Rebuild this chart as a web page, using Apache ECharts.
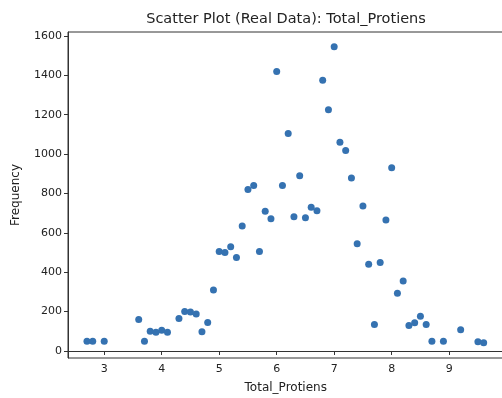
<!DOCTYPE html>
<html><head><meta charset="utf-8">
<script src="https://cdn.jsdelivr.net/npm/echarts@6/dist/echarts.min.js"></script>
<style>html,body{margin:0;padding:0;background:#fff}#c{width:502px;height:398px}</style>
</head><body><div id="c"></div>
<script>
const titleText = 'Scatter Plot (Real Data): Total_Protiens';
const xName = 'Total_Protiens';
const yName = 'Frequency';
const xValues = [2.7, 2.8, 3.0, 3.6, 3.7, 3.8, 3.9, 4.0, 4.1, 4.3, 4.4, 4.5, 4.6, 4.7, 4.8, 4.9, 5.0, 5.1, 5.2, 5.3, 5.4, 5.5, 5.6, 5.7, 5.8, 5.9, 6.0, 6.1, 6.2, 6.3, 6.4, 6.5, 6.6, 6.7, 6.8, 6.9, 7.0, 7.1, 7.2, 7.3, 7.4, 7.5, 7.6, 7.7, 7.8, 7.9, 8.0, 8.1, 8.2, 8.3, 8.4, 8.5, 8.6, 8.7, 8.9, 9.2, 9.5, 9.6];
const yValues = [50, 50, 50, 160, 50, 100, 95, 105, 95, 165, 200, 198, 188, 98, 145, 310, 505, 500, 530, 475, 635, 820, 840, 505, 710, 672, 1420, 840, 1105, 682, 890, 677, 730, 712, 1375, 1225, 1545, 1060, 1018, 878, 545, 736, 440, 135, 450, 665, 930, 293, 355, 130, 143, 176, 135, 50, 50, 108, 47, 42];
const xTicks = [3, 4, 5, 6, 7, 8, 9];
const yTicks = [0, 200, 400, 600, 800, 1000, 1200, 1400, 1600];

const points = xValues.map((x, i) => [x, yValues[i]]);
const font = 'DejaVu Sans';
const axisColor = '#333';
const chart = echarts.init(document.getElementById('c'), null, {renderer: 'canvas'});
chart.setOption({
  animation: false,
  backgroundColor: '#fff',
  graphic: [{
    type: 'text', x: 286, y: 19,
    style: {text: titleText, fill: '#222', font: '14.5px "DejaVu Sans"', textAlign: 'center', textVerticalAlign: 'middle'}
  }],
  grid: {left: 68, top: 32, width: 435.5, height: 326, outerBoundsMode: 'none', containLabel: false,
    show: true, borderColor: axisColor, borderWidth: 1, backgroundColor: 'transparent'},
  xAxis: {
    type: 'value', min: 2.37, max: 9.945,
    name: xName, nameLocation: 'middle', nameGap: 24,
    nameTextStyle: {fontFamily: font, fontSize: 12, color: '#222'},
    axisLine: {show: true, lineStyle: {color: axisColor}},
    axisTick: {show: true, length: 4, inside: false, customValues: xTicks, lineStyle: {color: axisColor}},
    axisLabel: {customValues: xTicks, fontFamily: font, fontSize: 11, color: '#222', margin: 6,
      formatter: v => String(v)},
    splitLine: {show: false}
  },
  yAxis: {
    type: 'value', min: -35.6, max: 1620,
    name: yName, nameLocation: 'middle', nameGap: 46,
    nameTextStyle: {fontFamily: font, fontSize: 12, color: '#222'},
    axisLine: {show: true, lineStyle: {color: axisColor}},
    axisTick: {show: true, length: 4, inside: false, customValues: yTicks, lineStyle: {color: axisColor}},
    axisLabel: {customValues: yTicks, fontFamily: font, fontSize: 11, color: '#222', margin: 6,
      formatter: v => String(v)},
    splitLine: {show: false}
  },
  series: [{
    type: 'scatter', data: points, symbolSize: 7,
    itemStyle: {color: '#3572b1', opacity: 1}
  }]
});
</script></body></html>
